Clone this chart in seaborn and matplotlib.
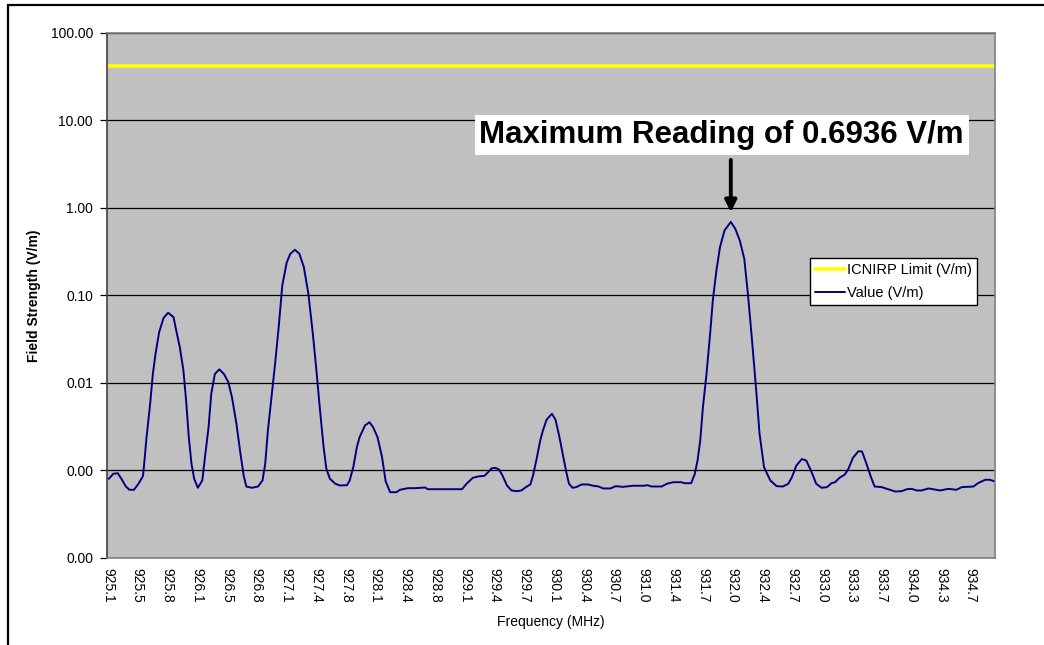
import numpy as np
import pandas as pd
import matplotlib
matplotlib.use("Agg")
import matplotlib.pyplot as plt
import matplotlib.ticker as mticker
from matplotlib.patches import Rectangle
import seaborn as sns

# Measured field strength across the band
freq_mhz = [
    925.11, 925.16, 925.21, 925.25, 925.30, 925.34, 925.39, 925.44, 925.49, 925.50,
    925.53, 925.57, 925.60, 925.63, 925.67, 925.72, 925.77, 925.83, 925.86, 925.90,
    925.94, 925.97, 926.00, 926.03, 926.06, 926.10, 926.15, 926.18, 926.22, 926.25,
    926.29, 926.34, 926.39, 926.44, 926.48, 926.53, 926.57, 926.61, 926.64, 926.70,
    926.77, 926.82, 926.85, 926.88, 926.92, 926.96, 927.00, 927.04, 927.09, 927.13,
    927.18, 927.23, 927.28, 927.33, 927.38, 927.42, 927.46, 927.50, 927.53, 927.57,
    927.63, 927.68, 927.76, 927.79, 927.83, 927.87, 927.90, 927.96, 928.01, 928.05,
    928.10, 928.15, 928.19, 928.24, 928.31, 928.35, 928.44, 928.52, 928.63, 928.66,
    929.04, 929.09, 929.16, 929.22, 929.29, 929.33, 929.37, 929.41, 929.45, 929.49,
    929.54, 929.59, 929.65, 929.70, 929.75, 929.80, 929.83, 929.87, 929.91, 929.94,
    929.98, 930.04, 930.08, 930.12, 930.16, 930.20, 930.23, 930.27, 930.31, 930.37,
    930.44, 930.50, 930.56, 930.61, 930.69, 930.75, 930.83, 930.94, 931.06, 931.10,
    931.15, 931.26, 931.32, 931.39, 931.48, 931.51, 931.59, 931.63, 931.66, 931.69,
    931.72, 931.76, 931.80, 931.83, 931.87, 931.91, 931.96, 932.03, 932.08, 932.13,
    932.18, 932.22, 932.26, 932.31, 932.35, 932.40, 932.47, 932.54, 932.61, 932.67,
    932.71, 932.76, 932.82, 932.87, 932.93, 932.98, 933.04, 933.10, 933.15, 933.19,
    933.24, 933.30, 933.34, 933.39, 933.45, 933.49, 933.54, 933.59, 933.63, 933.71,
    933.78, 933.86, 933.93, 933.99, 934.04, 934.10, 934.15, 934.23, 934.28, 934.36,
    934.45, 934.54, 934.60, 934.73, 934.78, 934.86, 934.91, 934.96,
]
field_vm = [
    0.000804, 0.000917, 0.000931, 0.000804, 0.000656, 0.000602, 0.000602, 0.000705, 0.000861, 0.00109,
    0.0024, 0.00578, 0.0127, 0.0216, 0.0381, 0.0556, 0.0634, 0.0565, 0.0398, 0.0257,
    0.0139, 0.0063, 0.0024, 0.00119, 0.000804, 0.000634, 0.000769, 0.00142, 0.00313, 0.00753,
    0.0127, 0.0143, 0.0127, 0.0102, 0.00688, 0.00342, 0.00169, 0.000877, 0.000656, 0.000634,
    0.000656, 0.000769, 0.00119, 0.00286, 0.00688, 0.0166, 0.0434, 0.130, 0.240, 0.300,
    0.333, 0.300, 0.211, 0.105, 0.0365, 0.0139, 0.00485, 0.00185, 0.00105, 0.000804,
    0.000705, 0.000674, 0.000679, 0.000769, 0.00109, 0.00185, 0.0024, 0.00327, 0.00356, 0.00313,
    0.0024, 0.00142, 0.000755, 0.000565, 0.000565, 0.000602, 0.000628, 0.000628, 0.000639, 0.000611,
    0.000611, 0.000705, 0.000825, 0.000854, 0.00087, 0.000956, 0.00106, 0.00107, 0.00103, 0.000877,
    0.000674, 0.000591, 0.00058, 0.000591, 0.000645, 0.000692, 0.000877, 0.00136, 0.0022, 0.00286,
    0.0038, 0.00445, 0.0038, 0.00251, 0.00155, 0.000956, 0.000705, 0.000634, 0.000645, 0.000692,
    0.000692, 0.000669, 0.000656, 0.000623, 0.000623, 0.000662, 0.00065, 0.000669, 0.000669, 0.000679,
    0.000656, 0.000656, 0.000705, 0.000735, 0.000735, 0.000716, 0.000716, 0.000917, 0.0013, 0.0022,
    0.00529, 0.0127, 0.0365, 0.0877, 0.193, 0.357, 0.553, 0.6936, 0.579, 0.425,
    0.263, 0.105, 0.0365, 0.00895, 0.00263, 0.00109, 0.000769, 0.000662, 0.000656, 0.000705,
    0.000838, 0.00114, 0.00135, 0.0013, 0.000956, 0.000705, 0.000634, 0.000645, 0.000716, 0.000735,
    0.000825, 0.0009, 0.00105, 0.0014, 0.00166, 0.00165, 0.00119, 0.000838, 0.000656, 0.000645,
    0.000611, 0.000575, 0.00058, 0.000611, 0.000617, 0.000591, 0.000591, 0.000623, 0.000611, 0.000591,
    0.000617, 0.000602, 0.000645, 0.000656, 0.000716, 0.000783, 0.000783, 0.000755,
]

# ICNIRP reference level (V/m) across the band
limit_freq = [925.09, 934.97]
limit_vm = [41.9, 41.9]

tick_labels = [
    "925.1", "925.5", "925.8", "926.1", "926.5", "926.8", "927.1", "927.4", "927.8", "928.1",
    "928.4", "928.8", "929.1", "929.4", "929.7", "930.1", "930.4", "930.7", "931.0", "931.4",
    "931.7", "932.0", "932.4", "932.7", "933.0", "933.3", "933.7", "934.0", "934.3", "934.7",
]
tick_step = 0.331

sns.set_style("white")
plt.rcParams['font.family'] = ['Liberation Sans', 'DejaVu Sans']
plt.rcParams.update({'text.color': 'black', 'axes.labelcolor': 'black',
                     'xtick.color': 'black', 'ytick.color': 'black'})

df = pd.DataFrame({'freq': freq_mhz, 'value': field_vm})
lim = pd.DataFrame({'freq': limit_freq, 'value': limit_vm})

fig = plt.figure(figsize=(10.44, 6.45), dpi=100)
ax = fig.add_axes([0.1025, 0.1349, 0.8506, 0.8140])
ax.set_facecolor('#C0C0C0')

sns.lineplot(data=lim, x='freq', y='value', color='#FFFF00', linewidth=2.6,
             label='ICNIRP Limit (V/m)', ax=ax)
sns.lineplot(data=df, x='freq', y='value', color='#000080', linewidth=1.4,
             label='Value (V/m)', sort=False, estimator=None, ax=ax)

ax.set_yscale('log')
ax.set_ylim(1e-4, 100)
ax.set_xlim(925.09, 934.97)
ax.yaxis.set_major_locator(mticker.LogLocator(base=10))
ax.yaxis.set_minor_locator(mticker.NullLocator())
ax.yaxis.set_major_formatter(mticker.FuncFormatter(lambda v, p: f"{v:.2f}"))
ax.yaxis.grid(True, color='black', linewidth=0.9)
ax.set_axisbelow(True)

ticks = [925.1 + i * tick_step for i in range(len(tick_labels))]
ax.set_xticks(ticks)
ax.set_xticklabels(tick_labels, rotation=-90)
ax.tick_params(axis='x', length=0, pad=7, labelsize=10)
ax.tick_params(axis='y', length=5, width=0.9, color='black', pad=5, labelsize=10, left=True)

for s in ax.spines.values():
    s.set_color('#808080')
    s.set_linewidth(1.2)
ax.spines['left'].set_color('#404040')

ax.set_xlabel('Frequency (MHz)', fontsize=10)
ax.set_ylabel('Field Strength (V/m)', fontsize=10, fontweight='bold')
ax.xaxis.set_label_coords(0.5, -0.108)
ax.yaxis.set_label_coords(-0.074, 0.5)

leg = ax.legend(loc='upper left', bbox_to_anchor=(0.792, 0.571), borderaxespad=0,
                fontsize=10.5, frameon=True, fancybox=False, handlelength=2.0,
                handletextpad=0.15, borderpad=0.35, labelspacing=0.6)
leg.get_frame().set_edgecolor('black')
leg.get_frame().set_linewidth(1.0)
leg.get_frame().set_facecolor('white')
leg.get_frame().set_alpha(1)

# annotate the maximum reading
peak = int(np.argmax(field_vm))
pf, pv = freq_mhz[peak], field_vm[peak]
ax.annotate('', xy=(pf, pv * 1.2), xytext=(pf, pv * 5.5),
            arrowprops=dict(arrowstyle='-|>', color='black', lw=2.8, mutation_scale=17))
ax.text(pf - 0.1, pv * 9.8, f"Maximum Reading of {pv:.4f} V/m", fontsize=22.5,
        fontweight='bold', ha='center', va='center',
        bbox=dict(boxstyle='square,pad=0.15', fc='white', ec='none'))

# outer frame (cropped)
fig.add_artist(Rectangle((8 / 1044, -0.2), 2, 0.9922 + 0.2, transform=fig.transFigure,
                         fill=False, ec='black', lw=1.6))

fig.savefig('out.png', dpi=100)
